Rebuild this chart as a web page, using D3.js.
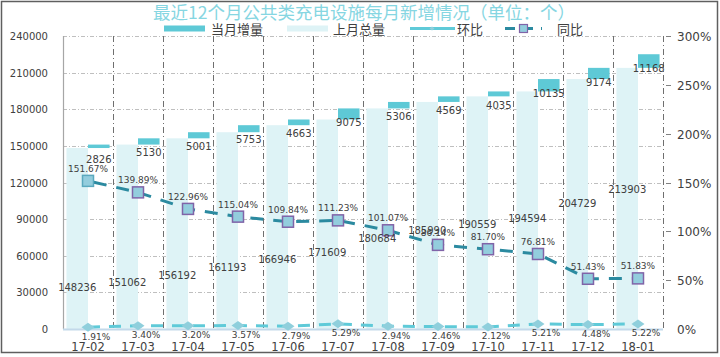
<!DOCTYPE html>
<html>
<head>
<meta charset="utf-8">
<script src="https://cdn.jsdelivr.net/npm/d3@7/dist/d3.min.js"></script>
<style>
  html, body { margin: 0; padding: 0; background: #fff; }
  svg { display: block; }
</style>
</head>
<body>
<svg id="chart" width="720" height="357"></svg>
<script>
const categories = ['17-02','17-03','17-04','17-05','17-06','17-07','17-08','17-09','17-10','17-11','17-12','18-01'];
const prevTotal = [148236,151062,156192,161193,166946,171609,180684,185990,190559,194594,204729,213903];
const increment = [2826,5130,5001,5753,4663,9075,5306,4569,4035,10135,9174,11168];
const momRate = [1.91,3.40,3.20,3.57,2.79,5.29,2.94,2.46,2.12,5.21,4.48,5.22];
const yoyRate = [151.67,139.89,122.96,115.04,109.84,111.23,101.07,86.14,81.70,76.81,51.43,51.83];
const leftTicks = [0,30000,60000,90000,120000,150000,180000,210000,240000];
const rightTicks = [0,50,100,150,200,250,300];
const legendNames = ['当月增量','上月总量','环比','同比'];
const titleText = '最近12个月公共类充电设施每月新增情况（单位：个）';

const C = {
  dark: '#5ec9d6', light: '#def3f6', mom: '#5fcad8', momMarker: '#8fcfdc',
  yoy: '#2b8aa0', yoyFill: '#93cddd', yoyStroke: '#8064a8', title: '#86d6e2',
  text: '#404040', grid: '#bfbfbf', vgrid: '#6f6f6f'
};
const NUM = '"DejaVu Sans", Verdana, sans-serif';
const CJK = '"Noto Sans CJK SC", "Noto Sans", sans-serif';

const svg = d3.select('#chart');
const L = 63, R = 663, T = 36, B = 329;

const x0 = d3.scaleBand().domain(categories).range([L, R]);
const x1 = d3.scaleBand().domain(['light','dark']).range([0, x0.bandwidth()]).paddingOuter(0.16);
const yL = d3.scaleLinear().domain([0, 240000]).range([B, T]);
const yR = d3.scaleLinear().domain([0, 300]).range([B, T]);
const cx = c => x0(c) + x0.bandwidth() / 2;

// outer frame
svg.append('rect').attr('x', 1.5).attr('y', 1.5).attr('width', 716).attr('height', 351)
  .attr('fill', '#fff').attr('stroke', '#5f5f5f').attr('stroke-width', 1.5);

// title
svg.append('text').attr('x', 364).attr('y', 18.5).attr('text-anchor', 'middle')
  .attr('font-family', CJK).attr('font-size', 17.5).attr('fill', C.title).text(titleText);

// horizontal grid
svg.append('g').selectAll('line').data(leftTicks.filter(d => d > 0)).join('line')
  .attr('x1', L).attr('x2', R).attr('y1', d => Math.round(yL(d)) + 0.5).attr('y2', d => Math.round(yL(d)) + 0.5)
  .attr('stroke', C.grid).attr('stroke-width', 1).attr('stroke-dasharray', '4,2,1,2');

// vertical grid at band boundaries
svg.append('g').selectAll('line').data(categories.slice(1).concat(['__end'])).join('line')
  .attr('x1', (d, i) => Math.round(i < categories.length - 1 ? x0(d) : R) + 0.5)
  .attr('x2', (d, i) => Math.round(i < categories.length - 1 ? x0(d) : R) + 0.5)
  .attr('y1', T).attr('y2', B)
  .attr('stroke', C.vgrid).attr('stroke-width', 1).attr('stroke-dasharray', '6,3,1,3');

// bars: previous totals (light)
svg.append('g').selectAll('rect').data(categories).join('rect')
  .attr('x', c => x0(c) + x1('light')).attr('width', x1.bandwidth())
  .attr('y', (c, i) => yL(prevTotal[i])).attr('height', (c, i) => yL(0) - yL(prevTotal[i]))
  .attr('fill', C.light);

// bars: increments (dark, floating)
svg.append('g').selectAll('rect').data(categories).join('rect')
  .attr('x', c => x0(c) + x1('dark')).attr('width', x1.bandwidth())
  .attr('y', (c, i) => yL(prevTotal[i] + increment[i]))
  .attr('height', (c, i) => yL(prevTotal[i]) - yL(prevTotal[i] + increment[i]))
  .attr('fill', C.dark);

// axes lines
svg.append('line').attr('x1', L + 0.5).attr('x2', L + 0.5).attr('y1', T).attr('y2', B)
  .attr('stroke', '#a6a6a6').attr('stroke-width', 1.2);
svg.append('line').attr('x1', L).attr('x2', R).attr('y1', B + 0.5).attr('y2', B + 0.5)
  .attr('stroke', '#c3d9ea').attr('stroke-width', 2);

// left axis labels
const leftLab = svg.append('g').selectAll('text').data(leftTicks).join('text')
  .attr('x', 48).attr('y', d => yL(d) + 4).attr('text-anchor', 'end')
  .attr('font-family', NUM).attr('font-size', 10).attr('fill', C.text).text(d => d);
leftLab.each(function () {
  const w = this.getComputedTextLength();
  if (48 - w < 2) d3.select(this).attr('text-anchor', 'start').attr('x', 2);
});

// right axis ticks and labels
svg.append('g').selectAll('line').data(rightTicks.filter(d => d > 0)).join('line')
  .attr('x1', 666).attr('x2', 671).attr('y1', d => Math.round(yR(d)) + 0.5).attr('y2', d => Math.round(yR(d)) + 0.5)
  .attr('stroke', '#808080').attr('stroke-width', 1);
svg.append('g').selectAll('text').data(rightTicks).join('text')
  .attr('x', 677).attr('y', d => yR(d) + 5)
  .attr('font-family', NUM).attr('font-size', 12).attr('fill', C.text).text(d => d + '%');

// category labels
svg.append('g').selectAll('text').data(categories).join('text')
  .attr('x', c => cx(c)).attr('y', 351).attr('text-anchor', 'middle')
  .attr('font-family', NUM).attr('font-size', 11.5).attr('fill', C.text).text(c => c);

// 环比 line
const momLine = d3.line().x((d, i) => cx(categories[i])).y(d => yR(d));
svg.append('path').attr('d', momLine(momRate)).attr('fill', 'none')
  .attr('stroke', C.mom).attr('stroke-width', 3).attr('stroke-dasharray', '12,9');
svg.append('g').selectAll('path').data(momRate).join('path')
  .attr('d', 'M-6.5,0L0,-4.5L6.5,0L0,4.5Z')
  .attr('transform', (d, i) => `translate(${cx(categories[i])},${yR(d)})`)
  .attr('fill', C.momMarker);

// 同比 line
const yoyLine = d3.line().x((d, i) => cx(categories[i])).y(d => yR(d));
svg.append('path').attr('d', yoyLine(yoyRate)).attr('fill', 'none')
  .attr('stroke', C.yoy).attr('stroke-width', 3).attr('stroke-dasharray', '13,10').attr('stroke-dashoffset', -6);
svg.append('g').selectAll('rect').data(yoyRate).join('rect')
  .attr('x', (d, i) => cx(categories[i]) - 5.5).attr('y', d => yR(d) - 5.5)
  .attr('width', 11).attr('height', 11)
  .attr('fill', C.yoyFill).attr('stroke', (d, i) => i === 0 ? '#5aa9be' : C.yoyStroke).attr('stroke-width', 1.5);

// labels: increments
svg.append('g').selectAll('text').data(increment).join('text')
  .attr('x', (d, i) => x0(categories[i]) + x1('dark') + x1.bandwidth() / 2)
  .attr('y', (d, i) => yL(prevTotal[i] + d) + 18).attr('text-anchor', 'middle')
  .attr('font-family', NUM).attr('font-size', 10).attr('fill', C.text).text(d => d);

// labels: previous totals
const totLabY = d3.scaleLinear().domain([d3.min(prevTotal), d3.max(prevTotal)]).range([290.5, 193]);
svg.append('g').selectAll('text').data(prevTotal).join('text')
  .attr('x', (d, i) => x0(categories[i]) + x1('light') + x1.bandwidth() / 2)
  .attr('y', d => totLabY(d)).attr('text-anchor', 'middle')
  .attr('font-family', NUM).attr('font-size', 10).attr('fill', C.text).text(d => d);

// labels: 同比
svg.append('g').selectAll('text').data(yoyRate).join('text')
  .attr('x', (d, i) => cx(categories[i]))
  .attr('y', d => yR(d) - 9).attr('text-anchor', 'middle')
  .attr('font-family', NUM).attr('font-size', 9).attr('fill', C.text).text(d => d.toFixed(2) + '%');

// labels: 环比
svg.append('g').selectAll('text').data(momRate).join('text')
  .attr('x', (d, i) => cx(categories[i]) + 8)
  .attr('y', d => yR(d) + 12.5).attr('text-anchor', 'middle')
  .attr('font-family', NUM).attr('font-size', 9).attr('fill', C.text).text(d => d.toFixed(2) + '%');

// legend
const lg = svg.append('g').attr('font-family', CJK).attr('font-size', 13).attr('fill', C.text);
lg.append('rect').attr('x', 164).attr('y', 25.5).attr('width', 41).attr('height', 6).attr('fill', C.dark);
lg.append('text').attr('x', 211).attr('y', 34).text(legendNames[0]);
lg.append('rect').attr('x', 287).attr('y', 25.5).attr('width', 41).attr('height', 6).attr('fill', C.light);
lg.append('text').attr('x', 333).attr('y', 34).text(legendNames[1]);
lg.append('line').attr('x1', 410).attr('x2', 455).attr('y1', 28.5).attr('y2', 28.5).attr('stroke', C.mom).attr('stroke-width', 3);
lg.append('path').attr('d', 'M-2.5,0L0,-2L2.5,0L0,2Z').attr('transform', 'translate(432,28.5)').attr('fill', C.momMarker);
lg.append('text').attr('x', 457).attr('y', 34).text(legendNames[2]);
lg.append('line').attr('x1', 505).attr('x2', 542).attr('y1', 28.5).attr('y2', 28.5).attr('stroke', C.yoy).attr('stroke-width', 3).attr('stroke-dasharray', '10,8');
lg.append('rect').attr('x', 519.5).attr('y', 24.5).attr('width', 8).attr('height', 8).attr('fill', C.yoyFill).attr('stroke', C.yoyStroke).attr('stroke-width', 1.2);
lg.append('text').attr('x', 557).attr('y', 34).text(legendNames[3]);
</script>
</body>
</html>
